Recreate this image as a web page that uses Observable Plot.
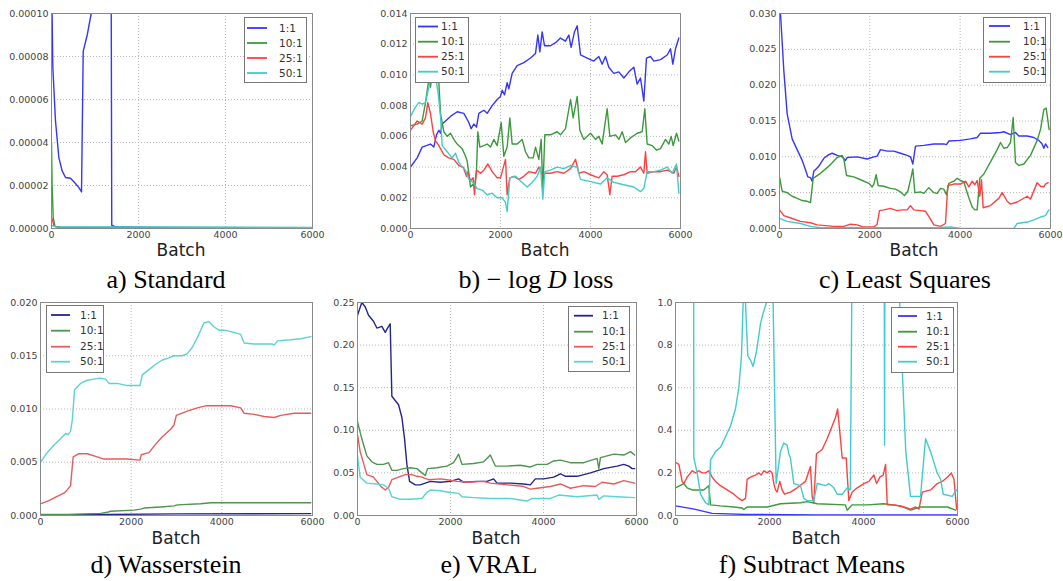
<!DOCTYPE html>
<html><head><meta charset="utf-8">
<script src="https://cdn.jsdelivr.net/npm/d3@7"></script>
<script src="https://cdn.jsdelivr.net/npm/@observablehq/plot@0.6"></script>
<style>
body{margin:0;background:#fff;}
#root{position:relative;width:1063px;height:581px;overflow:hidden;background:#fff;}
.panel{position:absolute;}
#overlay{position:absolute;left:0;top:0;pointer-events:none;}
</style></head>
<body><div id="root"></div>
<script>
const series = ["1:1","10:1","25:1","50:1"];
const xTicks = [0,2000,4000,6000];
const brightColors = ["#3535ff","#3b9a3b","#ff4040","#40cccc"];
const darkColors = ["#24248f","#4f944f","#e65c5c","#5cd3d3"];

// a) Standard
const std_yTicks = [0,0.00002,0.00004,0.00006,0.00008,0.0001];
const std_1 = [[0,0.00012],[31,0.0000748],[92,0.00005],[169,0.000033],[245,0.0000268],[322,0.0000237],[437,0.0000234],[530,0.0000214],[630,0.000019],[690,0.000017],[729,0.0000825],[821,0.00009],[913,0.0001],[1000,0.000115],[1370,0.00013],[1385,0.0000015],[1473,0.0000008],[2200,0.0000005],[3000,0.0000002],[6000,0.0000001]];
const std_10 = [[0,0.00004],[15,0.00002],[40,0.000005],[80,0.000001],[200,0.0000006],[6000,0.0000003]];
const std_25 = [[0,0.000005],[20,0.000004],[60,0.000001],[200,0.0000005],[6000,0.0000002]];
const std_50 = [[0,0.0000015],[100,0.0000008],[6000,0.0000005]];

// b) -log D loss
const logd_yTicks = [0,0.002,0.004,0.006,0.008,0.010,0.012,0.014];
const logd_1 = [[0,0.0040],[148,0.0046],[259,0.0053],[444,0.0055],[518,0.0053],[578,0.0061],[630,0.0064],[667,0.0062],[704,0.0068],[889,0.0073],[1037,0.0076],[1185,0.0075],[1296,0.0069],[1348,0.0065],[1407,0.0068],[1467,0.0066],[1518,0.0075],[1630,0.0077],[1704,0.0075],[1815,0.0080],[1926,0.0084],[2000,0.0086],[2037,0.0090],[2089,0.0087],[2148,0.0095],[2185,0.0091],[2259,0.0101],[2370,0.0106],[2518,0.0108],[2667,0.0111],[2778,0.0114],[2830,0.0126],[2874,0.0115],[2926,0.0128],[2978,0.0119],[3111,0.0119],[3222,0.0121],[3333,0.0124],[3444,0.0122],[3518,0.0126],[3570,0.0118],[3644,0.0128],[3704,0.0132],[3778,0.0113],[3926,0.0111],[4074,0.0109],[4185,0.0112],[4259,0.0107],[4333,0.0112],[4407,0.0105],[4518,0.0101],[4630,0.0102],[4741,0.0098],[4852,0.0102],[4963,0.0105],[5037,0.0094],[5111,0.0098],[5185,0.0083],[5244,0.0111],[5333,0.0112],[5407,0.0109],[5556,0.0110],[5704,0.0113],[5778,0.0117],[5830,0.0107],[5889,0.0117],[5963,0.0124]];
const logd_10 = [[0,0.0067],[148,0.0068],[259,0.0070],[333,0.0082],[407,0.0097],[444,0.0092],[500,0.0105],[600,0.0102],[630,0.0095],[667,0.0075],[741,0.0063],[815,0.0060],[889,0.0062],[963,0.0058],[1037,0.0055],[1148,0.0052],[1222,0.0047],[1259,0.0044],[1296,0.0036],[1333,0.0027],[1393,0.0029],[1422,0.0027],[1467,0.0038],[1496,0.0063],[1540,0.0053],[1630,0.0054],[1704,0.0055],[1778,0.0053],[1852,0.0058],[1926,0.0054],[2015,0.0069],[2074,0.0047],[2148,0.0053],[2207,0.0072],[2259,0.0055],[2370,0.0055],[2481,0.0058],[2556,0.0050],[2630,0.0046],[2726,0.0046],[2778,0.0053],[2852,0.0045],[2904,0.0058],[2941,0.0025],[2985,0.0061],[3111,0.0061],[3259,0.0063],[3333,0.0061],[3444,0.0065],[3556,0.0084],[3615,0.0072],[3704,0.0086],[3763,0.0064],[3852,0.0058],[4000,0.0062],[4111,0.0058],[4185,0.0060],[4259,0.0055],[4370,0.0078],[4430,0.0060],[4556,0.0061],[4630,0.0058],[4704,0.0063],[4778,0.0056],[4889,0.0059],[5037,0.0062],[5148,0.0063],[5207,0.0078],[5259,0.0055],[5370,0.0054],[5467,0.0051],[5556,0.0052],[5667,0.0058],[5741,0.0055],[5793,0.0060],[5837,0.0054],[5911,0.0062],[5963,0.0057]];
const logd_25 = [[0,0.0064],[148,0.0070],[259,0.0068],[333,0.0072],[385,0.0082],[444,0.0075],[504,0.0063],[556,0.0057],[630,0.0054],[741,0.0048],[852,0.0046],[963,0.0045],[1074,0.0041],[1170,0.0040],[1244,0.0034],[1274,0.0037],[1333,0.0031],[1393,0.0033],[1422,0.0022],[1467,0.0038],[1556,0.0036],[1630,0.0038],[1719,0.0042],[1815,0.0037],[1926,0.0033],[2000,0.0033],[2111,0.0045],[2148,0.0022],[2207,0.0033],[2296,0.0034],[2407,0.0032],[2518,0.0034],[2630,0.0037],[2778,0.0036],[2852,0.0040],[2926,0.0035],[3000,0.0036],[3111,0.0036],[3259,0.0037],[3407,0.0036],[3556,0.0039],[3667,0.0045],[3741,0.0036],[3852,0.0037],[4000,0.0035],[4185,0.0033],[4296,0.0037],[4370,0.0035],[4430,0.0022],[4481,0.0034],[4593,0.0034],[4741,0.0035],[4889,0.0037],[5000,0.0037],[5111,0.0040],[5185,0.0036],[5222,0.0050],[5259,0.0036],[5407,0.0037],[5556,0.0037],[5704,0.0038],[5852,0.0036],[5911,0.0040],[5963,0.0034]];
const logd_50 = [[0,0.0073],[111,0.0079],[185,0.0082],[259,0.0081],[333,0.0082],[385,0.0089],[444,0.0097],[481,0.0103],[533,0.0096],[578,0.0095],[615,0.0088],[667,0.0073],[704,0.0054],[815,0.0050],[926,0.0046],[1000,0.0049],[1074,0.0043],[1148,0.0040],[1222,0.0038],[1296,0.0032],[1393,0.0030],[1481,0.0026],[1593,0.0025],[1704,0.0022],[1815,0.0023],[1926,0.0020],[2037,0.0020],[2111,0.0017],[2148,0.0011],[2207,0.0033],[2333,0.0034],[2444,0.0031],[2593,0.0027],[2704,0.0030],[2815,0.0034],[2889,0.0040],[2941,0.0019],[2985,0.0037],[3111,0.0038],[3259,0.0040],[3407,0.0039],[3556,0.0041],[3704,0.0040],[3778,0.0032],[3926,0.0031],[4074,0.0030],[4222,0.0029],[4370,0.0033],[4518,0.0030],[4667,0.0029],[4815,0.0028],[4963,0.0027],[5111,0.0024],[5185,0.0026],[5259,0.0037],[5407,0.0037],[5556,0.0038],[5704,0.0040],[5815,0.0036],[5911,0.0042],[5963,0.0023]];

// c) Least Squares
const ls_yTicks = [0,0.005,0.010,0.015,0.020,0.025,0.030];
const ls_1 = [[0,0.033],[22,0.030],[96,0.022],[170,0.016],[280,0.0125],[391,0.0110],[502,0.0095],[576,0.0082],[627,0.0072],[686,0.0071],[723,0.0066],[760,0.0080],[871,0.0087],[982,0.0098],[1092,0.0103],[1166,0.0105],[1277,0.0102],[1387,0.0100],[1461,0.0095],[1498,0.0099],[1720,0.0100],[1941,0.0097],[2089,0.0100],[2162,0.0101],[2236,0.0110],[2384,0.0108],[2531,0.0108],[2679,0.0105],[2826,0.0102],[2900,0.0100],[2952,0.0090],[3011,0.0115],[3195,0.0116],[3417,0.0118],[3638,0.0118],[3697,0.0117],[3749,0.0122],[4007,0.0123],[4229,0.0125],[4376,0.0127],[4450,0.0133],[4672,0.0133],[4893,0.0134],[4967,0.0135],[5115,0.0131],[5225,0.0134],[5299,0.0129],[5483,0.0129],[5631,0.0127],[5742,0.0123],[5815,0.0118],[5852,0.0112],[5889,0.0118],[5941,0.0113]];
const ls_10 = [[0,0.0072],[59,0.0052],[170,0.0050],[280,0.0045],[391,0.0042],[502,0.0039],[613,0.0038],[686,0.0036],[745,0.0070],[908,0.0077],[1092,0.0087],[1277,0.0099],[1387,0.0102],[1424,0.0097],[1483,0.0074],[1646,0.0072],[1793,0.0068],[1978,0.0063],[2052,0.0058],[2089,0.0062],[2140,0.0075],[2184,0.0060],[2310,0.0059],[2458,0.0056],[2568,0.0055],[2679,0.0051],[2768,0.0046],[2841,0.0052],[2915,0.0072],[2952,0.0083],[2996,0.0050],[3122,0.0051],[3195,0.0049],[3306,0.0057],[3417,0.0050],[3491,0.0049],[3565,0.0056],[3638,0.0055],[3697,0.0047],[3749,0.0063],[3860,0.0066],[3934,0.0070],[4007,0.0067],[4081,0.0065],[4192,0.0043],[4266,0.0030],[4325,0.0026],[4376,0.0026],[4435,0.0070],[4524,0.0076],[4672,0.0093],[4819,0.0110],[4893,0.0120],[4967,0.0112],[5041,0.0113],[5115,0.0120],[5174,0.0155],[5225,0.0092],[5299,0.0088],[5410,0.0090],[5557,0.0102],[5705,0.0123],[5778,0.0138],[5852,0.0166],[5904,0.0168],[5948,0.0148],[5970,0.0138]];
const ls_25 = [[0,0.0026],[96,0.0018],[280,0.0014],[465,0.0010],[686,0.0008],[834,0.0005],[1203,0.0003],[1424,0.0003],[1572,0.0006],[1720,0.0005],[1867,0.0002],[2089,0.0002],[2162,0.0006],[2214,0.0025],[2310,0.0026],[2458,0.0028],[2605,0.0025],[2716,0.0026],[2826,0.0026],[2900,0.0032],[2974,0.0026],[3122,0.0025],[3233,0.0024],[3343,0.0013],[3417,0.0005],[3565,0.0003],[3675,0.0007],[3727,0.0060],[3860,0.0062],[4007,0.0062],[4118,0.0066],[4192,0.0058],[4266,0.0066],[4325,0.0061],[4376,0.0067],[4435,0.0045],[4472,0.0068],[4509,0.0029],[4672,0.0032],[4856,0.0042],[4930,0.0050],[5041,0.0038],[5115,0.0034],[5262,0.0037],[5483,0.0045],[5557,0.0041],[5705,0.0064],[5778,0.0059],[5852,0.0058],[5889,0.0062],[5948,0.0064]];
const ls_50 = [[0,0.0014],[170,0.0010],[465,0.0007],[686,0.0003],[908,0.0001],[1941,0.0001],[3417,0.0001],[3786,0.0002],[4007,0.0000],[5189,0.0000],[5262,0.0007],[5483,0.0009],[5631,0.0012],[5778,0.0016],[5889,0.0018],[5963,0.0026]];

// d) Wasserstein
const w_yTicks = [0,0.005,0.010,0.015,0.020];
const w_1 = [[0,0.00005],[1500,0.0001],[3000,0.00015],[5963,0.00018]];
const w_10 = [[0,0.0001],[589,0.0001],[1325,0.0002],[1472,0.0003],[1546,0.0004],[2061,0.0005],[2208,0.0006],[2282,0.0007],[2650,0.0008],[2945,0.0009],[3018,0.0010],[3534,0.0011],[3755,0.0012],[4270,0.0012],[5963,0.0012]];
const w_25 = [[0,0.0011],[184,0.0014],[368,0.0018],[515,0.0021],[589,0.0024],[663,0.0028],[721,0.0055],[847,0.0058],[1031,0.0058],[1252,0.0055],[1399,0.0053],[1620,0.0053],[1914,0.0053],[2194,0.0052],[2223,0.0057],[2393,0.0059],[2540,0.0067],[2687,0.0074],[2871,0.0081],[2945,0.0085],[2996,0.0094],[3239,0.0098],[3460,0.0101],[3644,0.0103],[3902,0.0103],[4196,0.0103],[4417,0.0101],[4491,0.0096],[4712,0.0095],[4932,0.0093],[5153,0.0092],[5300,0.0094],[5595,0.0096],[5963,0.0096]];
const w_50 = [[0,0.0050],[147,0.0059],[294,0.0066],[442,0.0072],[552,0.0077],[611,0.0076],[663,0.0079],[700,0.0089],[751,0.0118],[883,0.0124],[1031,0.0127],[1178,0.0128],[1325,0.0129],[1436,0.0128],[1509,0.0124],[1693,0.0124],[1914,0.0122],[2061,0.0122],[2194,0.0122],[2245,0.0132],[2393,0.0137],[2540,0.0142],[2687,0.0146],[2834,0.0148],[2945,0.0150],[3129,0.0150],[3239,0.0152],[3350,0.0158],[3460,0.0167],[3607,0.0181],[3718,0.0182],[3828,0.0177],[3939,0.0174],[4049,0.0174],[4270,0.0172],[4417,0.0170],[4491,0.0162],[4712,0.0161],[4932,0.0161],[5116,0.0161],[5153,0.0160],[5227,0.0164],[5521,0.0165],[5742,0.0166],[5963,0.0168]];

// e) VRAL
const v_yTicks = [0,0.05,0.10,0.15,0.20,0.25];
const v_1 = [[0,0.235],[93,0.250],[165,0.245],[237,0.235],[344,0.228],[416,0.220],[524,0.222],[596,0.215],[646,0.220],[703,0.225],[739,0.140],[811,0.135],[883,0.130],[955,0.115],[1012,0.090],[1062,0.060],[1120,0.040],[1242,0.036],[1349,0.036],[1457,0.038],[1565,0.040],[1780,0.039],[1995,0.040],[2175,0.043],[2282,0.039],[2569,0.040],[2785,0.040],[2928,0.043],[3000,0.038],[3287,0.038],[3574,0.037],[3718,0.036],[3825,0.043],[4005,0.043],[4220,0.045],[4364,0.049],[4471,0.046],[4723,0.046],[5010,0.050],[5297,0.055],[5584,0.058],[5727,0.060],[5835,0.058],[5907,0.055],[5960,0.055]];
const v_10 = [[0,0.110],[93,0.090],[201,0.070],[309,0.063],[416,0.060],[560,0.060],[667,0.062],[739,0.053],[847,0.053],[991,0.055],[1134,0.056],[1278,0.055],[1385,0.050],[1457,0.047],[1507,0.055],[1708,0.056],[1923,0.058],[2067,0.062],[2175,0.072],[2246,0.060],[2497,0.061],[2713,0.063],[2856,0.071],[2964,0.058],[3215,0.058],[3502,0.059],[3718,0.057],[3861,0.060],[4077,0.060],[4220,0.064],[4364,0.065],[4579,0.062],[4866,0.062],[5153,0.067],[5189,0.055],[5225,0.068],[5512,0.072],[5727,0.071],[5871,0.075],[5960,0.071]];
const v_25 = [[0,0.095],[57,0.075],[201,0.048],[344,0.045],[488,0.035],[596,0.030],[667,0.033],[739,0.042],[883,0.045],[1026,0.048],[1170,0.048],[1278,0.046],[1385,0.045],[1479,0.043],[1529,0.042],[1780,0.043],[1923,0.042],[2139,0.040],[2354,0.039],[2713,0.040],[2856,0.038],[3215,0.036],[3431,0.035],[3574,0.034],[3718,0.031],[3861,0.032],[4148,0.034],[4364,0.037],[4579,0.032],[4866,0.035],[5117,0.034],[5260,0.039],[5512,0.037],[5727,0.041],[5960,0.038]];
const v_50 = [[0,0.070],[57,0.045],[201,0.038],[416,0.037],[560,0.036],[667,0.032],[739,0.022],[919,0.019],[1134,0.019],[1385,0.020],[1493,0.027],[1565,0.030],[1780,0.029],[1995,0.027],[2175,0.026],[2246,0.022],[2497,0.021],[2856,0.020],[3287,0.020],[3646,0.017],[3754,0.020],[4148,0.020],[4328,0.024],[4723,0.022],[5153,0.024],[5189,0.019],[5297,0.023],[5584,0.022],[5960,0.021]];

// f) Subtract Means
const sm_yTicks = [0,0.2,0.4,0.6,0.8,1.0];
const sm_1 = [[0,0.045],[400,0.030],[780,0.010],[1500,0.005],[3000,0.003],[5980,0.002]];
const sm_10 = [[0,0.13],[177,0.15],[248,0.13],[355,0.12],[496,0.12],[600,0.12],[709,0.14],[745,0.05],[957,0.045],[1241,0.04],[1418,0.035],[1453,0.028],[1524,0.04],[1950,0.04],[2233,0.055],[2659,0.06],[2801,0.065],[3013,0.055],[3611,0.05],[3653,0.025],[3760,0.05],[4079,0.05],[4434,0.055],[4789,0.045],[5002,0.025],[5215,0.04],[5500,0.04],[5783,0.04],[5960,0.025]];
const sm_25 = [[0,0.25],[71,0.24],[142,0.16],[177,0.15],[248,0.18],[355,0.21],[426,0.20],[496,0.21],[567,0.20],[638,0.20],[709,0.21],[780,0.18],[851,0.16],[957,0.14],[1099,0.12],[1241,0.10],[1347,0.08],[1418,0.07],[1489,0.08],[1524,0.17],[1595,0.18],[1702,0.19],[1773,0.20],[1822,0.19],[1879,0.21],[1950,0.20],[2006,0.21],[2056,0.20],[2092,0.15],[2127,0.12],[2162,0.11],[2219,0.16],[2269,0.12],[2318,0.10],[2446,0.11],[2588,0.13],[2765,0.16],[2872,0.23],[2907,0.09],[2942,0.06],[2999,0.29],[3120,0.31],[3226,0.36],[3333,0.42],[3404,0.46],[3450,0.50],[3547,0.27],[3632,0.27],[3688,0.07],[3760,0.11],[3866,0.13],[4008,0.15],[4115,0.16],[4221,0.19],[4278,0.15],[4349,0.18],[4420,0.19],[4470,0.24],[4505,0.05],[4647,0.05],[4860,0.04],[5002,0.03],[5108,0.04],[5180,0.03],[5251,0.11],[5428,0.12],[5570,0.15],[5677,0.16],[5783,0.18],[5869,0.20],[5925,0.17],[5982,0.03]];
const sm_50 = [[0,1.4],[385,1.4],[390,0.27],[461,0.20],[532,0.10],[638,0.06],[709,0.05],[745,0.26],[851,0.30],[957,0.32],[1064,0.37],[1170,0.42],[1276,0.50],[1347,0.60],[1404,0.75],[1439,1.0],[1465,1.2],[1489,1.0],[1538,0.75],[1595,0.73],[1652,0.70],[1723,0.77],[1808,0.90],[1865,0.95],[1936,1.0],[2000,1.3],[2070,1.3],[2077,1.0],[2141,0.15],[2233,0.30],[2304,0.34],[2375,0.33],[2410,0.29],[2446,0.27],[2517,0.15],[2659,0.14],[2730,0.08],[2801,0.07],[2942,0.07],[3015,0.15],[3192,0.14],[3263,0.15],[3369,0.13],[3440,0.10],[3547,0.10],[3653,0.13],[3720,0.12],[3760,1.3],[4440,1.3],[4448,0.33],[4456,1.3],[4760,1.3],[4770,1.0],[4841,0.6],[4900,0.3],[5000,0.09],[5213,0.09],[5320,0.36],[5426,0.30],[5568,0.20],[5640,0.17],[5697,0.10],[5888,0.09],[5980,0.12]];

const ML = 48, MR = 8, MT = 6, MB = 18;

const panels = [
  {data:[std_1,std_10,std_25,std_50], yDomain:[0,0.0001], yTicks:std_yTicks, fmt:".5f", colors:brightColors,
   fx:51, fy:13, fw:261, fh:215,
   legend:{x:244,y:17,w:62,h:65,rows:[28,43,58,73],l1:247,l2:267,tx:279},
   batch:[181,256], caption:[166,288,[["a) Standard",false]]]},
  {data:[logd_1,logd_10,logd_25,logd_50], yDomain:[0,0.014], yTicks:logd_yTicks, fmt:".3f", colors:brightColors,
   fx:410, fy:13, fw:270, fh:215,
   legend:{x:415,y:17,w:53,h:65,rows:[26.5,41.7,56.7,71.7],l1:418,l2:438,tx:441},
   batch:[545,256], caption:[536,288,[["b) \u2212 log ",false],["D",true],[" loss",false]]]},
  {data:[ls_1,ls_10,ls_25,ls_50], yDomain:[0,0.03], yTicks:ls_yTicks, fmt:".3f", colors:brightColors,
   fx:779, fy:13, fw:271, fh:215,
   legend:{x:983,y:17,w:62,h:65,rows:[26,41.7,56.7,71.7],l1:989,l2:1010,tx:1023},
   batch:[914,256], caption:[905,288,[["c) Least Squares",false]]]},
  {data:[w_1,w_10,w_25,w_50], yDomain:[0,0.02], yTicks:w_yTicks, fmt:".3f", colors:darkColors,
   fx:40, fy:302, fw:272, fh:213,
   legend:{x:46,y:305,w:57,h:67,rows:[315,330.7,346.7,361.7],l1:51,l2:70,tx:80},
   batch:[176,544], caption:[166,573,[["d) Wasserstein",false]]]},
  {data:[v_1,v_10,v_25,v_50], yDomain:[0,0.25], yTicks:v_yTicks, fmt:".2f", colors:darkColors,
   fx:357, fy:302, fw:279, fh:213,
   legend:{x:568,y:306,w:61,h:65,rows:[315.7,331.7,346.7,361.7],l1:574,l2:593,tx:602},
   batch:[496,544], caption:[489,573,[["e) VRAL",false]]]},
  {data:[sm_1,sm_10,sm_25,sm_50], yDomain:[0,1], yTicks:sm_yTicks, fmt:".1f", colors:brightColors,
   fx:675, fy:302, fw:282, fh:213,
   legend:{x:891,y:307,w:62,h:65,rows:[316,331.7,346.7,361.7],l1:898,l2:917,tx:926},
   batch:[816,544], caption:[812,573,[["f) Subtract Means",false]]]}
];

const root = document.getElementById("root");

for (const p of panels) {
  const rows = p.data.flatMap((pts, i) => pts.map(([b, v]) => ({batch: b, value: v, series: series[i]})));
  const chart = Plot.plot({
    width: p.fw + ML + MR, height: p.fh + MT + MB,
    marginLeft: ML, marginRight: MR, marginTop: MT, marginBottom: MB,
    style: {background: "transparent", fontFamily: "DejaVu Sans, sans-serif", fontSize: "9.5px", color: "#444", overflow: "visible"},
    x: {domain: [0, 6000]},
    y: {domain: p.yDomain},
    color: {domain: series, range: p.colors},
    marks: [
      Plot.gridY(p.yTicks.slice(1, -1), {stroke: "#b5b5b5", strokeOpacity: 1, strokeDasharray: "1,2"}),
      Plot.gridX([2000, 4000], {stroke: "#b5b5b5", strokeOpacity: 1, strokeDasharray: "1,2"}),
      Plot.line(rows, {x: "batch", y: "value", z: "series", stroke: "series", strokeWidth: 1.4, clip: true}),
      Plot.frame({stroke: "#8a8a8a", strokeWidth: 1}),
      Plot.axisY(p.yTicks, {tickSize: 0, tickPadding: 3, tickFormat: d3.format(p.fmt), label: null, fontSize: 9.5}),
      Plot.axisX(xTicks, {tickSize: 0, tickPadding: 3, tickFormat: d3.format("d"), label: null, fontSize: 9.5})
    ]
  });
  const div = document.createElement("div");
  div.className = "panel";
  div.style.left = (p.fx - ML) + "px";
  div.style.top = (p.fy - MT) + "px";
  div.appendChild(chart);
  root.appendChild(div);
}

// overlay for legends, axis titles, captions
const svg = d3.select(root).append("svg").attr("id", "overlay").attr("width", 1063).attr("height", 581);
for (const p of panels) {
  const L = p.legend;
  svg.append("rect").attr("x", L.x + 0.5).attr("y", L.y + 0.5).attr("width", L.w).attr("height", L.h)
    .attr("fill", "#fff").attr("stroke", "#777").attr("stroke-width", 1);
  series.forEach((s, i) => {
    svg.append("line").attr("x1", L.l1).attr("x2", L.l2).attr("y1", L.rows[i]).attr("y2", L.rows[i])
      .attr("stroke", p.colors[i]).attr("stroke-width", 1.8);
    svg.append("text").attr("x", L.tx).attr("y", L.rows[i]).attr("dy", "0.36em")
      .attr("font-family", "DejaVu Sans, sans-serif").attr("font-size", 10.5).attr("fill", "#333").text(s);
  });
  svg.append("text").attr("x", p.batch[0]).attr("y", p.batch[1]).attr("text-anchor", "middle")
    .attr("font-family", "DejaVu Sans, sans-serif").attr("font-size", 17).attr("fill", "#222").text("Batch");
  const cap = svg.append("text").attr("x", p.caption[0]).attr("y", p.caption[1]).attr("text-anchor", "middle")
    .attr("font-family", "Liberation Serif, Times New Roman, serif").attr("font-size", 26).attr("fill", "#000");
  for (const [t, it] of p.caption[2]) {
    const ts = cap.append("tspan").text(t);
    if (it) ts.attr("font-style", "italic");
  }
}
</script>
</body></html>
